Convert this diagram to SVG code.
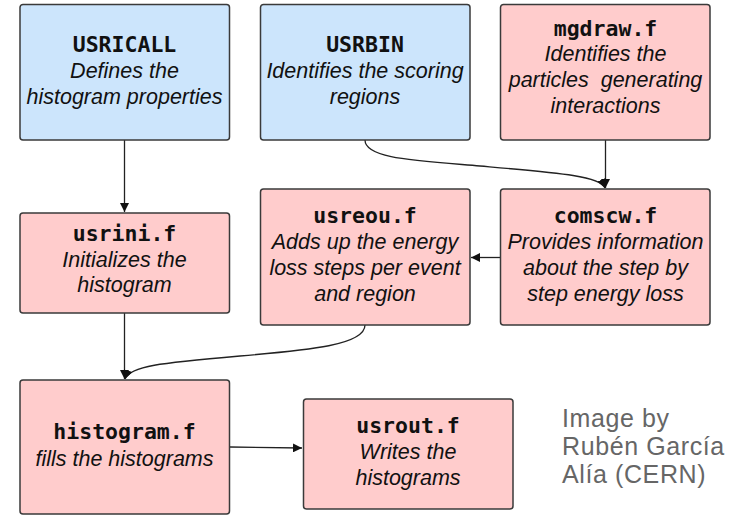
<svg xmlns="http://www.w3.org/2000/svg" width="741" height="515" viewBox="0 0 741 515">
<style>
.box{stroke:#3a3a3a;stroke-width:1.5}
.blue{fill:#cce5fc}
.pink{fill:#ffcccc}
.t{font-family:"DejaVu Sans Mono","Liberation Mono",monospace;font-weight:bold;font-size:21.5px;fill:#111;text-anchor:middle}
.d{font-family:"Liberation Sans",Arial,sans-serif;font-style:italic;font-size:21.5px;fill:#111;text-anchor:middle}
.c{font-family:"Liberation Sans",Arial,sans-serif;font-size:25px;letter-spacing:0.6px;fill:#666}
.ln{fill:none;stroke:#222;stroke-width:1.3;marker-end:url(#ah)}
</style>
<defs>
<marker id="ah" viewBox="0 0 10 10" refX="10" refY="5" markerWidth="9" markerHeight="9" markerUnits="userSpaceOnUse" orient="auto">
<path d="M0,0 L10,5 L0,10 z" fill="#111"/>
</marker>
</defs>
<g id="connectors">
<path class="ln" d="M124.5,140 L124.5,212"/>
<path class="ln" d="M605.5,140 L605.5,188"/>
<path class="ln" d="M365,140 C365,158 410,160 480,166 C560,173 600,176 605,188"/>
<path class="ln" d="M500,257.5 L471,257.5"/>
<path class="ln" d="M124.5,313 L124.5,379"/>
<path class="ln" d="M365,325 C365,345 310,350 240,356 C160,363 130,366 125,379"/>
<path class="ln" d="M230,447 L302,448"/>
</g>
<g id="usricall">
<rect class="box blue" x="20" y="4.5" width="209.5" height="135.5" rx="3"/>
<text class="t" x="124.5" y="52">USRICALL</text>
<text class="d" x="124.5" y="78">Defines the</text>
<text class="d" x="124.5" y="104">histogram properties</text>
</g>
<g id="usrbin">
<rect class="box blue" x="260.5" y="4.5" width="209.5" height="135.5" rx="3"/>
<text class="t" x="365" y="52">USRBIN</text>
<text class="d" x="365" y="78">Identifies the scoring</text>
<text class="d" x="365" y="104">regions</text>
</g>
<g id="mgdraw">
<rect class="box pink" x="500.5" y="4.5" width="209.5" height="135.5" rx="3"/>
<text class="t" x="605.5" y="36">mgdraw.f</text>
<text class="d" x="605.5" y="61">Identifies the</text>
<text class="d" x="605.5" y="87" style="white-space:pre">particles  generating</text>
<text class="d" x="605.5" y="113">interactions</text>
</g>
<g id="usrini">
<rect class="box pink" x="20" y="213" width="209.5" height="100" rx="3"/>
<text class="t" x="124.5" y="241">usrini.f</text>
<text class="d" x="124.5" y="267">Initializes the</text>
<text class="d" x="124.5" y="292">histogram</text>
</g>
<g id="usreou">
<rect class="box pink" x="260.5" y="189" width="209.5" height="136" rx="3"/>
<text class="t" x="365" y="223">usreou.f</text>
<text class="d" x="365" y="249">Adds up the energy</text>
<text class="d" x="365" y="275">loss steps per event</text>
<text class="d" x="365" y="301">and region</text>
</g>
<g id="comscw">
<rect class="box pink" x="500.5" y="189" width="209.5" height="136" rx="3"/>
<text class="t" x="605.5" y="223">comscw.f</text>
<text class="d" x="605.5" y="249">Provides information</text>
<text class="d" x="605.5" y="275">about the step by</text>
<text class="d" x="605.5" y="301">step energy loss</text>
</g>
<g id="histogram">
<rect class="box pink" x="20" y="380" width="209.5" height="134" rx="3"/>
<text class="t" x="124.5" y="439">histogram.f</text>
<text class="d" x="124.5" y="466">fills the histograms</text>
</g>
<g id="usrout">
<rect class="box pink" x="303.5" y="399" width="209.5" height="110" rx="3"/>
<text class="t" x="408" y="433">usrout.f</text>
<text class="d" x="408" y="459">Writes the</text>
<text class="d" x="408" y="485">histograms</text>
</g>
<g id="credit">
<text class="c" x="562" y="427">Image by</text>
<text class="c" x="562" y="455">Rubén García</text>
<text class="c" x="562" y="483">Alía (CERN)</text>
</g>
</svg>
